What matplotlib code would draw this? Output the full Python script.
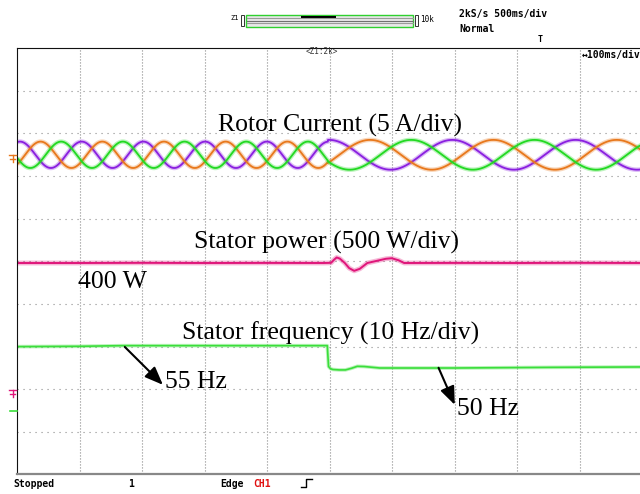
import numpy as np
import matplotlib.pyplot as plt
from matplotlib.patches import Rectangle
from matplotlib.lines import Line2D

# screen settings read from the scope
ms_per_div = 100
amp_per_div = 5      # A/div, rotor current
w_per_div = 500      # W/div, stator power
hz_per_div = 10      # Hz/div, stator frequency

# rotor current: three phases, slip frequency changes at the step
step_ms = 497
rotor_freq_hz = [10.13, 5.07]       # before / after step
rotor_amp_a = [1.55, 1.75]
rotor_peak0_ms = 4.3                # first peak of the violet phase
rotor_shift_deg = [0, 120, 240]     # violet, orange, green
rotor_colors = ['#8a1fe0', '#e8781c', '#22d922']
rotor_pos = 2.5                     # div above centre

# stator power (W)
power_t = [0, 100, 200, 300, 400, 490, 502, 507, 511, 516, 524, 531, 539, 548, 560,
           575, 590, 599, 610, 619, 700, 800, 900, 1000]
power_w = [400, 400, 402, 400, 401, 400, 402, 440, 465, 452, 400, 340, 308, 332, 400,
           425, 450, 456, 432, 400, 401, 400, 402, 400]
power_ref_w = 400
power_pos = -0.04

# stator frequency (Hz)
freq_t = [0, 100, 170, 300, 400, 496, 498, 501, 505, 515, 525, 535, 544, 555, 580, 700, 850, 1000]
freq_hz = [54.97, 55.05, 55.2, 55.2, 55.2, 55.2, 50.3, 49.8, 49.6, 49.5, 49.5, 49.9, 50.35, 50.3,
           49.95, 49.95, 50.1, 50.2]
freq_ref_hz = 55
freq_pos = -2.0

W, H = 640, 494


def fx(x):
    return x / W


def fy(y):
    return 1 - y / H


fig = plt.figure(figsize=(6.4, 4.94), dpi=100)
fig.patch.set_facecolor('white')
ax = fig.add_axes([fx(17.3), fy(474.3), (642.3 - 17.3) / W, (474.3 - 48.3) / H])
ax.set_xlim(0, 10 * ms_per_div)
ax.set_ylim(-5, 5)
ax.set_xticks([])
ax.set_yticks([])
ax.spines['right'].set_visible(False)
ax.spines['left'].set_color('#111111')
ax.spines['top'].set_color('#111111')
ax.spines['bottom'].set_color('#888888')
ax.spines['bottom'].set_linewidth(1.6)

# dotted graticule
for i in range(1, 10):
    ax.axvline(i * ms_per_div, color='#8c8c8c', lw=0.8, ls=(0, (1, 1.7)), zorder=0)
for j in range(-4, 5):
    ax.axhline(j, color='#8c8c8c', lw=0.8, ls=(0, (1, 4.4)), zorder=0)

# rotor currents
t = np.linspace(0, 1000, 5000)
cyc = np.where(t < step_ms,
               rotor_freq_hz[0] * (t - rotor_peak0_ms),
               rotor_freq_hz[0] * (step_ms - rotor_peak0_ms) + rotor_freq_hz[1] * (t - step_ms)) / 1000
amp = np.where(t < step_ms, rotor_amp_a[0], rotor_amp_a[1])
for shift, col in zip(rotor_shift_deg, rotor_colors):
    y = rotor_pos + amp * np.cos(2 * np.pi * cyc - np.radians(shift)) / amp_per_div
    ax.plot(t, y, color=col, lw=3.2, alpha=0.3, solid_capstyle='butt')
    ax.plot(t, y, color=col, lw=1.3)

# stator power
p = power_pos + (np.array(power_w) - power_ref_w) / w_per_div
ax.plot(power_t, p, color='#e0157a', lw=3.5, alpha=0.3)
ax.plot(power_t, p, color='#e0157a', lw=1.4)

# stator frequency
f = freq_pos + (np.array(freq_hz) - freq_ref_hz) / hz_per_div
ax.plot(freq_t, f, color='#3ade3a', lw=2.6, alpha=0.35)
ax.plot(freq_t, f, color='#3ade3a', lw=1.2)

# annotations
serif = 'Liberation Serif'
ax.text(516, 3.2, 'Rotor Current (5 A/div)', family=serif, fontsize=18.5, ha='center', va='center')
ax.text(494, 0.45, 'Stator power (500 W/div)', family=serif, fontsize=18.5, ha='center', va='center')
ax.text(152, -0.48, '400 W', family=serif, fontsize=18.5, ha='center', va='center')
ax.text(501, -1.69, 'Stator frequency (10 Hz/div)', family=serif, fontsize=18.5, ha='center', va='center')
ax.text(237, -2.83, '55 Hz', family=serif, fontsize=18.5, ha='left', va='center')
ax.text(703, -3.47, '50 Hz', family=serif, fontsize=18.5, ha='left', va='center')

arrow = dict(arrowstyle='-|>,head_length=0.55,head_width=0.22', color='black', lw=1.5,
             mutation_scale=20, shrinkA=0, shrinkB=0)
ax.annotate('', xy=(233, -2.9), xytext=(172, -2.01), arrowprops=arrow)
ax.annotate('', xy=(700, -3.37), xytext=(674, -2.5), arrowprops=arrow)

# scope status text
mono = dict(family='DejaVu Sans Mono', fontweight='bold', fontsize=7)
fig.text(fx(13), fy(484), 'Stopped', ha='left', va='center', **mono)
fig.text(fx(128), fy(484), '1', ha='left', va='center', **mono)
fig.text(fx(220), fy(484), 'Edge', ha='left', va='center', **mono)
fig.text(fx(253), fy(484), 'CH1', ha='left', va='center', color='#e01010', **mono)
fig.add_artist(Line2D([fx(301), fx(306), fx(306), fx(312)], [fy(487), fy(487), fy(479), fy(479)],
                      color='black', lw=1, transform=fig.transFigure))
fig.text(fx(459), fy(14), '2kS/s 500ms/div', ha='left', va='center', **mono)
fig.text(fx(459), fy(29), 'Normal', ha='left', va='center', **mono)
fig.text(fx(640), fy(55), '\u2194100ms/div', ha='right', va='center', **mono)
fig.text(fx(322), fy(52), '<Z1:2k>', ha='center', va='center', family='DejaVu Sans Mono',
         fontsize=5.5, color='#333333')
fig.text(fx(540), fy(40), 'T', ha='center', va='center', family='DejaVu Sans Mono',
         fontsize=6, fontweight='bold')

# zoom bar
bar = dict(transform=fig.transFigure)
fig.add_artist(Rectangle((fx(246), fy(26.7)), (413.3 - 246) / W, 12 / H, facecolor='#e8e8e8',
                         edgecolor='#2fd02f', lw=1, **bar))
for yy, c in [(18.5, '#9a9a9a'), (21, '#707070'), (23.5, '#9a9a9a')]:
    fig.add_artist(Line2D([fx(247), fx(412.5)], [fy(yy), fy(yy)], color=c, lw=0.8, **bar))
fig.add_artist(Rectangle((fx(300.7), fy(19.5)), (336 - 300.7) / W, 3.5 / H, facecolor='black', **bar))
fig.add_artist(Rectangle((fx(240.5), fy(26)), 3.5 / W, 10.5 / H, facecolor='white',
                         edgecolor='#333333', lw=0.7, **bar))
fig.add_artist(Rectangle((fx(414.5), fy(26)), 3.5 / W, 10.5 / H, facecolor='white',
                         edgecolor='#333333', lw=0.7, **bar))
fig.text(fx(239), fy(18), 'Z1', ha='right', va='center', family='DejaVu Sans Mono', fontsize=5)
fig.text(fx(420), fy(20), '10k', ha='left', va='center', family='DejaVu Sans Mono', fontsize=5.5)

# channel ground markers on the left edge
for yy, c in [(158, '#e8781c'), (393, '#e0157a')]:
    fig.add_artist(Line2D([fx(9), fx(16)], [fy(yy - 3), fy(yy - 3)], color=c, lw=1, **bar))
    fig.add_artist(Line2D([fx(12.5), fx(12.5)], [fy(yy - 3), fy(yy + 4)], color=c, lw=1, **bar))
    fig.add_artist(Line2D([fx(10), fx(15)], [fy(yy + 1), fy(yy + 1)], color=c, lw=1, **bar))
fig.add_artist(Line2D([fx(10), fx(17)], [fy(410.7), fy(410.7)], color='#3ade3a', lw=1.2, **bar))

fig.savefig('out.png', dpi=100)
